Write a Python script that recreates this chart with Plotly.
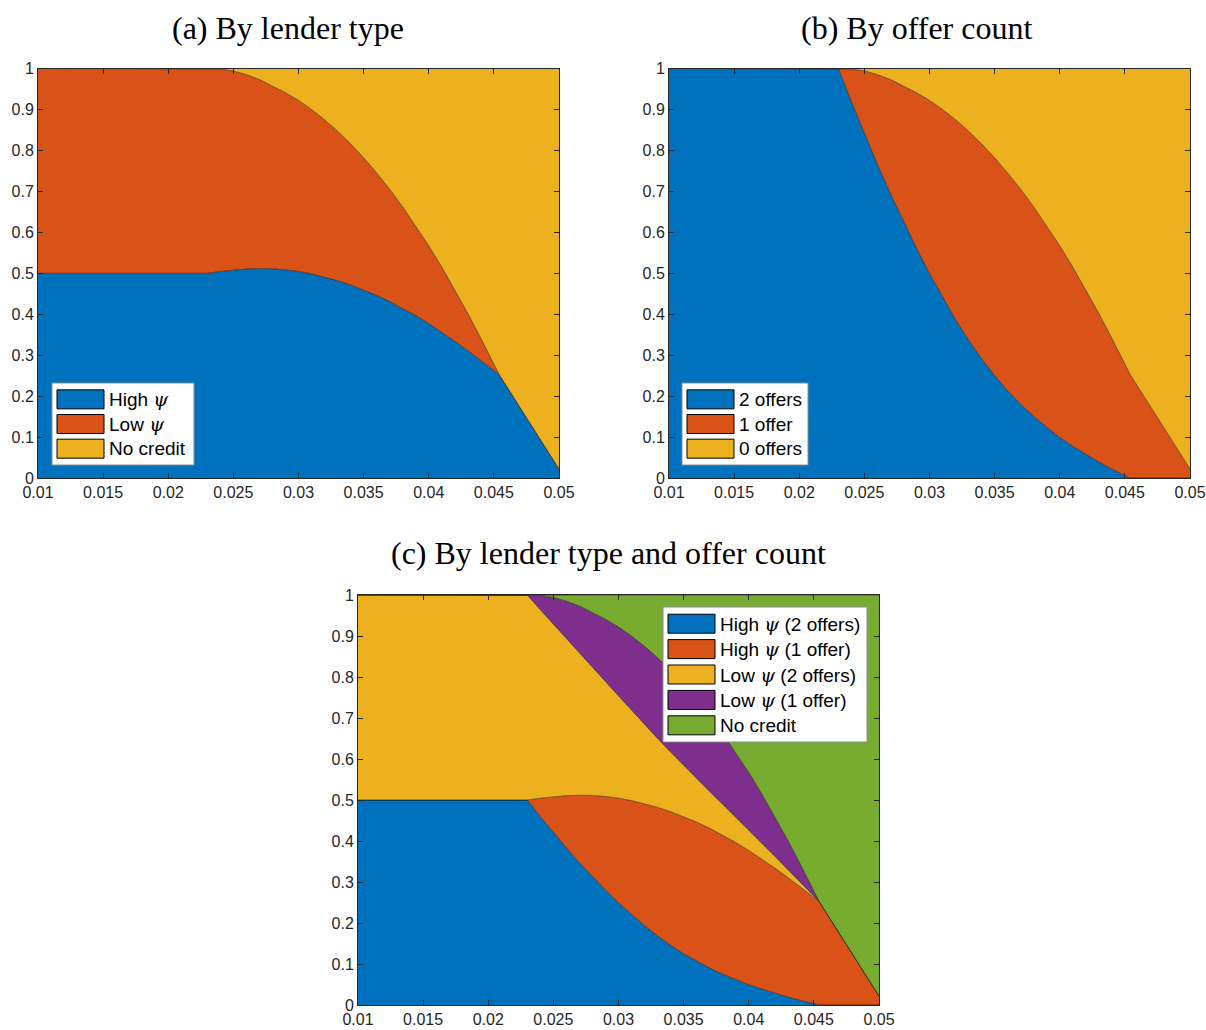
import numpy as np
import plotly.graph_objects as go

W, H = 1206, 1030

# Interest rate grid
rate = [0.010, 0.023, 0.024, 0.025, 0.026, 0.027, 0.028, 0.029, 0.030, 0.031,
        0.032, 0.033, 0.034, 0.035, 0.036, 0.037, 0.038, 0.039, 0.040, 0.041,
        0.042, 0.043, 0.044, 0.045, 0.0454, 0.050]

# Population shares by lender type and number of offers
high_two = [0.5, 0.5, 0.4595, 0.4205, 0.383, 0.347, 0.313, 0.2805, 0.2495, 0.2205,
            0.1933, 0.1683, 0.1455, 0.125, 0.1065, 0.090, 0.0753, 0.062, 0.0495, 0.0388,
            0.0288, 0.0195, 0.011, 0.0035, 0.0, 0.0]
high_one = [0.0, 0.0, 0.045, 0.0875, 0.1275, 0.1645, 0.198, 0.228, 0.255, 0.278,
            0.2977, 0.3137, 0.326, 0.3345, 0.3395, 0.341, 0.3392, 0.3345, 0.3275, 0.3172,
            0.3052, 0.2915, 0.276, 0.2595, 0.253, 0.022]
low_two = [0.5, 0.5, 0.4595, 0.4205, 0.383, 0.347, 0.313, 0.2805, 0.2495, 0.2205,
           0.1933, 0.1683, 0.1455, 0.125, 0.1065, 0.090, 0.0753, 0.062, 0.0495, 0.0388,
           0.0288, 0.0195, 0.011, 0.0035, 0.0, 0.0]
low_one = [0.0, 0.0, 0.035, 0.0655, 0.0915, 0.1145, 0.134, 0.152, 0.168, 0.181,
           0.1907, 0.1967, 0.199, 0.1975, 0.1925, 0.184, 0.1722, 0.1575, 0.1405, 0.1202,
           0.0972, 0.0715, 0.043, 0.0115, 0.0, 0.0]
no_credit = [0.0, 0.0, 0.001, 0.006, 0.015, 0.027, 0.042, 0.059, 0.078, 0.100,
             0.125, 0.153, 0.184, 0.218, 0.255, 0.295, 0.338, 0.384, 0.433, 0.485,
             0.540, 0.598, 0.659, 0.722, 0.747, 0.978]

x_ticks = [0.01, 0.015, 0.02, 0.025, 0.03, 0.035, 0.04, 0.045, 0.05]
x_ticktext = ["0.01", "0.015", "0.02", "0.025", "0.03", "0.035", "0.04", "0.045", "0.05"]
y_ticks = [0, 0.1, 0.2, 0.3, 0.4, 0.5, 0.6, 0.7, 0.8, 0.9, 1]
y_ticktext = ["0", "0.1", "0.2", "0.3", "0.4", "0.5", "0.6", "0.7", "0.8", "0.9", "1"]

BLUE, RED, YELLOW, PURPLE, GREEN = "#0072BD", "#D95319", "#EDB120", "#7E2F8E", "#77AC30"
PSI = "<span style=\"font-family:'DejaVu Serif'\"><i>ψ</i></span>"

hi2, hi1, lo2, lo1, none_ = map(np.array, (high_two, high_one, low_two, low_one, no_credit))

panels = {
    "a": {
        "title": "(a) By lender type",
        "series": [("High " + PSI, hi2 + hi1, BLUE),
                   ("Low " + PSI, lo2 + lo1, RED),
                   ("No credit", none_, YELLOW)],
        "axes": (38, 559, 68.5, 478),
        "title_pos": (288, 28),
        "legend": (52, 194, 383, 465),
    },
    "b": {
        "title": "(b) By offer count",
        "series": [("2 offers", hi2 + lo2, BLUE),
                   ("1 offer", hi1 + lo1, RED),
                   ("0 offers", none_, YELLOW)],
        "axes": (669, 1190, 68.5, 478),
        "title_pos": (916, 28),
        "legend": (682, 808, 383, 465),
    },
    "c": {
        "title": "(c) By lender type and offer count",
        "series": [("High " + PSI + " (2 offers)", hi2, BLUE),
                   ("High " + PSI + " (1 offer)", hi1, RED),
                   ("Low " + PSI + " (2 offers)", lo2, YELLOW),
                   ("Low " + PSI + " (1 offer)", lo1, PURPLE),
                   ("No credit", none_, GREEN)],
        "axes": (358, 879, 595, 1005),
        "title_pos": (608, 553),
        "legend": (663, 867, 607, 742),
    },
}


def px(x):
    return x / W


def py(y):
    return 1 - y / H


fig = go.Figure()
shapes, annotations = [], []

for i, (key, p) in enumerate(panels.items()):
    suffix = "" if i == 0 else str(i + 1)
    xa, ya = "x" + suffix, "y" + suffix
    for name, vals, color in p["series"]:
        fig.add_trace(go.Scatter(
            x=rate, y=vals, name=name, mode="lines", stackgroup=key,
            fillcolor=color, line=dict(color="black", width=0.5),
            xaxis=xa, yaxis=ya, showlegend=False, hoverinfo="skip"))

    x0, x1, y0, y1 = p["axes"]
    axis_common = dict(showline=True, mirror="allticks", linecolor="#262626", linewidth=1,
                       ticks="inside", ticklen=5, tickwidth=1, tickcolor="#262626",
                       showgrid=False, zeroline=False, automargin=False,
                       tickfont=dict(family="Liberation Sans, Arial", size=16, color="#262626"))
    fig.layout["xaxis" + suffix] = dict(
        domain=[px(x0), px(x1)], range=[0.01, 0.05], anchor=ya,
        tickvals=x_ticks, ticktext=x_ticktext, **axis_common)
    fig.layout["yaxis" + suffix] = dict(
        domain=[py(y1), py(y0)], range=[0, 1], anchor=xa,
        tickvals=y_ticks, ticktext=y_ticktext, **axis_common)

    tx, ty = p["title_pos"]
    annotations.append(dict(
        x=px(tx), y=py(ty), xref="paper", yref="paper", text=p["title"],
        showarrow=False, xanchor="center", yanchor="middle",
        font=dict(family="Liberation Serif, Times New Roman", size=32, color="black")))

    # Legend box
    lx0, lx1, ly0, ly1 = p["legend"]
    shapes.append(dict(type="rect", xref="paper", yref="paper",
                       x0=px(lx0), x1=px(lx1), y0=py(ly1), y1=py(ly0),
                       fillcolor="white", line=dict(color="#8c8c8c", width=1), layer="above"))
    n = len(p["series"])
    pitch = (ly1 - ly0 - 8) / n
    for j, (name, _, color) in enumerate(p["series"]):
        cy = ly0 + 4 + pitch * (j + 0.5)
        shapes.append(dict(type="rect", xref="paper", yref="paper",
                           x0=px(lx0 + 5), x1=px(lx0 + 52), y0=py(cy + 9.5), y1=py(cy - 9.5),
                           fillcolor=color, line=dict(color="black", width=1), layer="above"))
        annotations.append(dict(
            x=px(lx0 + 55), y=py(cy), xref="paper", yref="paper", text=name,
            showarrow=False, xanchor="left", yanchor="middle",
            font=dict(family="Liberation Sans, Arial", size=19, color="black")))

fig.update_layout(
    width=W, height=H, margin=dict(l=0, r=0, t=0, b=0),
    paper_bgcolor="white", plot_bgcolor="white",
    shapes=shapes, annotations=annotations, showlegend=False)

fig.write_html("out.html")
